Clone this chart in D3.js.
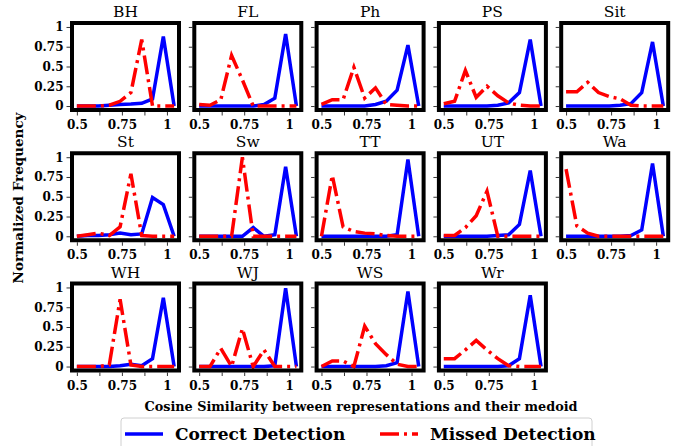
<!DOCTYPE html>
<html>
<head>
<meta charset="utf-8">
<script src="https://cdn.jsdelivr.net/npm/d3@7"></script>
<style>
  body { margin: 0; background: #fff; }
  svg { display: block; }
</style>
</head>
<body>
<svg id="chart" width="677" height="446"></svg>
<script>
// cosine similarity bins (x values of every line)
var xBins = [0.5, 0.56, 0.62, 0.68, 0.74, 0.80, 0.86, 0.92, 0.98, 1.04];

var panelNames = ["BH", "FL", "Ph", "PS", "Sit",
                  "St", "Sw", "TT", "UT", "Wa",
                  "WH", "WJ", "WS", "Wr"];

// normalized frequency of correct detections, one row per panel
var correctFreq = [
  [0, 0, 0, 0.01, 0.02, 0.025, 0.035, 0.09, 0.88, 0],
  [0, 0, 0, 0, 0, 0, 0.02, 0.1, 0.91, 0],
  [0, 0, 0, 0, 0, 0.02, 0.06, 0.2, 0.77, 0],
  [0, 0, 0, 0, 0, 0.01, 0.04, 0.17, 0.84, 0],
  [0, 0, 0, 0, 0, 0.01, 0.03, 0.17, 0.81, 0],
  [0, 0.01, 0.01, 0.02, 0.04, 0.02, 0.03, 0.49, 0.4, 0],
  [0, 0, 0, 0, 0, 0.11, 0, 0.02, 0.88, 0],
  [0, 0, 0, 0, 0, 0, 0, 0.02, 0.97, 0],
  [0, 0, 0, 0, 0, 0.01, 0.02, 0.15, 0.83, 0],
  [0, 0, 0, 0, 0, 0, 0.01, 0.08, 0.92, 0],
  [0, 0, 0, 0, 0.01, 0.03, 0.01, 0.1, 0.87, 0],
  [0, 0, 0, 0, 0, 0, 0, 0.01, 0.99, 0],
  [0, 0, 0, 0, 0, 0, 0.01, 0.05, 0.95, 0],
  [0, 0, 0, 0, 0, 0, 0.01, 0.1, 0.9, 0]
];

// normalized frequency of missed detections
var missedFreq = [
  [0, 0, 0, 0.01, 0.06, 0.17, 0.84, 0, 0, 0],
  [0.02, 0.01, 0.08, 0.64, 0.33, 0, 0, 0, 0, 0],
  [0.02, 0.08, 0.08, 0.49, 0.1, 0.23, 0.02, 0.01, 0, 0],
  [0.03, 0.06, 0.45, 0.11, 0.25, 0.13, 0.04, 0.01, 0, 0],
  [0.18, 0.18, 0.3, 0.17, 0.12, 0.09, 0.01, 0, 0, 0],
  [0, 0.02, 0.04, 0.01, 0.12, 0.79, 0.01, 0, 0, 0],
  [0, 0, 0, 0, 1.0, 0, 0, 0, 0, 0],
  [0, 0.77, 0.12, 0.06, 0.04, 0.03, 0.01, 0, 0, 0],
  [0.01, 0.01, 0.11, 0.26, 0.57, 0, 0, 0, 0, 0],
  [0.85, 0.13, 0.04, 0, 0, 0, 0, 0, 0, 0],
  [0, 0, 0, 0.02, 0.85, 0.02, 0, 0, 0, 0],
  [0, 0, 0.23, 0, 0.48, 0, 0.21, 0, 0, 0],
  [0, 0.07, 0.07, 0, 0.51, 0.29, 0.15, 0.03, 0, 0],
  [0.1, 0.1, 0.21, 0.33, 0.21, 0.1, 0.01, 0, 0, 0]
];

var xTicks = [0.5, 0.75, 1];
var xTickLabels = ["0.5", "0.75", "1"];
var yTicks = [0, 0.25, 0.5, 0.75, 1];
var yTickLabels = ["0", "0.25", "0.5", "0.75", "1"];

var legendLabels = ["Correct Detection", "Missed Detection"];

var cols = 5,
    panelW = 107,
    panelH = 87,
    colStep = 122.3,
    rowStep = 130.25,
    left0 = 72,
    top0 = 23;

var serif = "'DejaVu Serif', serif";
var blue = "#0000ff", red = "#ff0000";
var dashDot = "19,5,3,5";

var svg = d3.select("#chart");

var x = d3.scaleLinear().domain([0.473, 1.067]).range([0, panelW]);
var y = d3.scaleLinear().domain([-0.05, 1.05]).range([panelH, 0]);

var line = d3.line()
    .x(function(d, i) { return x(xBins[i]); })
    .y(function(d) { return y(d); });

for (var p = 0; p < panelNames.length; p++) {
    drawPanel(p);
}

function drawPanel(p) {
    var col = p % cols, row = Math.floor(p / cols);
    var g = svg.append("g")
        .attr("transform", "translate(" + (left0 + col * colStep) + "," + (top0 + row * rowStep) + ")");

    g.append("clipPath")
        .attr("id", "clip" + p)
        .append("rect")
        .attr("width", panelW)
        .attr("height", panelH);

    // axes, labels only on the left column for y
    var xAxis = d3.axisBottom(x)
        .tickValues([0.5, 0.625, 0.75, 0.875, 1])
        .tickFormat(function(d) {
            var k = xTicks.indexOf(d);
            return k >= 0 ? xTickLabels[k] : "";
        })
        .tickSizeOuter(0)
        .tickSize(3.5)
        .tickPadding(5);
    var ax = g.append("g")
        .attr("transform", "translate(0," + (panelH + 2) + ")")
        .call(xAxis);

    var yAxis = d3.axisLeft(y)
        .tickValues(yTicks)
        .tickFormat(function(d, i) { return col == 0 ? yTickLabels[i] : ""; })
        .tickSizeOuter(0)
        .tickSize(3.5)
        .tickPadding(3);
    var ay = g.append("g")
        .attr("transform", "translate(-2,0)")
        .call(yAxis);

    [ax, ay].forEach(function(a) {
        a.select(".domain").remove();
        a.selectAll(".tick line").attr("stroke", "#000").attr("stroke-width", 0.8);
        a.selectAll("text")
            .attr("fill", "#000")
            .style("font-family", serif)
            .style("font-weight", "bold")
            .style("font-size", "12px");
    });

    var plot = g.append("g").attr("clip-path", "url(#clip" + p + ")");

    plot.append("path")
        .datum(correctFreq[p])
        .attr("d", line)
        .attr("fill", "none")
        .attr("stroke", blue)
        .attr("stroke-width", 3.5)
        .attr("stroke-linejoin", "miter");

    plot.append("path")
        .datum(missedFreq[p])
        .attr("d", line)
        .attr("fill", "none")
        .attr("stroke", red)
        .attr("stroke-width", 3.5)
        .attr("stroke-dasharray", dashDot);

    // thick black frame
    g.append("rect")
        .attr("width", panelW)
        .attr("height", panelH)
        .attr("fill", "none")
        .attr("stroke", "#000")
        .attr("stroke-width", 4);

    g.append("text")
        .attr("x", panelW / 2)
        .attr("y", -6)
        .attr("text-anchor", "middle")
        .style("font-family", serif)
        .style("font-size", "15.5px")
        .text(panelNames[p]);
}

// shared axis titles
svg.append("text")
    .attr("transform", "translate(23,198) rotate(-90)")
    .attr("text-anchor", "middle")
    .style("font-family", serif)
    .style("font-weight", "bold")
    .style("font-size", "13.5px")
    .text("Normalized Frequency");

svg.append("text")
    .attr("x", 361)
    .attr("y", 411)
    .attr("text-anchor", "middle")
    .style("font-family", serif)
    .style("font-weight", "bold")
    .style("font-size", "12.8px")
    .text("Cosine Similarity between representations and their medoid");

// legend
var legend = svg.append("g");
legend.append("rect")
    .attr("x", 121)
    .attr("y", 418)
    .attr("width", 471)
    .attr("height", 40)
    .attr("rx", 3)
    .attr("fill", "#fff")
    .attr("stroke", "#d0d0d0");

var legendX = [125, 380];
var legendColors = [blue, red];
var legendDash = [null, dashDot];
for (var i = 0; i < legendLabels.length; i++) {
    legend.append("line")
        .attr("x1", legendX[i])
        .attr("x2", legendX[i] + 38)
        .attr("y1", 434)
        .attr("y2", 434)
        .attr("stroke", legendColors[i])
        .attr("stroke-width", 3.5)
        .attr("stroke-dasharray", legendDash[i]);
    legend.append("text")
        .attr("x", legendX[i] + 50)
        .attr("y", 440)
        .style("font-family", serif)
        .style("font-weight", "bold")
        .style("font-size", "17px")
        .text(legendLabels[i]);
}
</script>
</body>
</html>
